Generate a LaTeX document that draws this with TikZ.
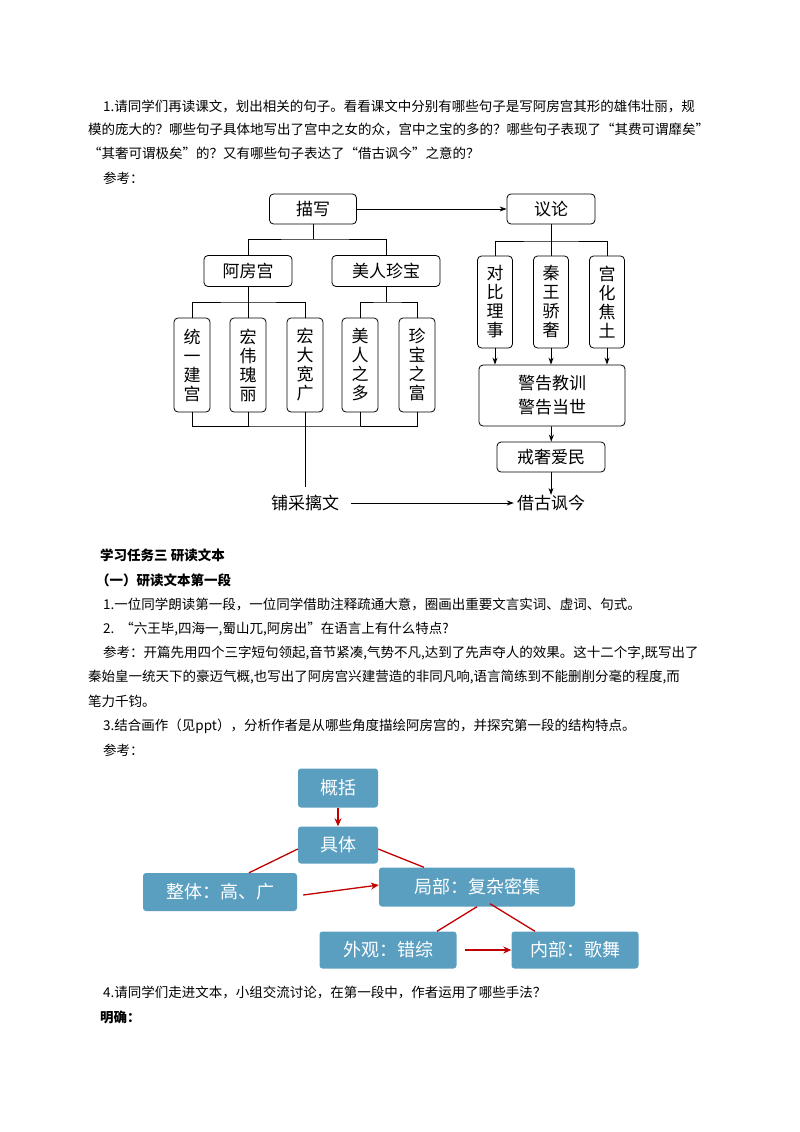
\documentclass[tikz,border=0pt]{standalone}
\usepackage{fontspec}
\setmainfont{Noto Sans CJK SC}
\usetikzlibrary{arrows.meta}
\definecolor{boxblue}{HTML}{5B9FC0}
\definecolor{dred}{HTML}{C00000}
\begin{document}
\begin{tikzpicture}[x=1pt,y=-1pt,
  txt/.style={anchor=west,inner sep=0pt,font=\fontsize{13.5}{14}\selectfont},
  hbox/.style={draw,thick,rounded corners=4pt,inner sep=0pt,font=\fontsize{17}{18}\selectfont},
  vbox/.style={draw,thick,rounded corners=4pt,inner sep=0pt,minimum width=36pt,align=center,font=\fontsize{17}{19}\selectfont},
  ln/.style={thick},
  arr/.style={thick,-{Stealth[length=7pt,width=5pt]}},
  bb/.style={fill=boxblue,text=white,rounded corners=3pt,inner sep=0pt,font=\fontsize{18}{20}\selectfont},
  rl/.style={dred,line width=1.3pt},
  ra/.style={dred,line width=1.3pt,-{Stealth[length=8pt,width=7pt]}}]
\useasboundingbox[fill=white] (0,0) rectangle (800,1132);
% text
\node[txt] (t1) at (103,106) {1.请同学们再读课文，划出相关的句子。看看课文中分别有哪些句子是写阿房宫其形的雄伟壮丽，规};
\node[txt] (t2) at (88,129) {模的庞大的？哪些句子具体地写出了宫中之女的众，宫中之宝的多的？哪些句子表现了“其费可谓靡矣”};
\node[txt] (t3) at (88,153) {“其奢可谓极矣”的？又有哪些句子表达了“借古讽今”之意的？};
\node[txt] (t4) at (103,178) {参考：};
\node[txt,font=\fontsize{13.5}{14}\selectfont\bfseries] (t5) at (100,555) {学习任务三\ 研读文本};
\node[txt,font=\fontsize{13.5}{14}\selectfont\bfseries] (t6) at (96,580) {（一）研读文本第一段};
\node[txt] (t7) at (103,604) {1.一位同学朗读第一段，一位同学借助注释疏通大意，圈画出重要文言实词、虚词、句式。};
\node[txt] (t8) at (103,629) {2.\ \ “六王毕,四海一,蜀山兀,阿房出”在语言上有什么特点?};
\node[txt] (t9) at (103,653) {参考：开篇先用四个三字短句领起,音节紧凑,气势不凡,达到了先声夺人的效果。这十二个字,既写出了};
\node[txt] (t10) at (88,677) {秦始皇一统天下的豪迈气概,也写出了阿房宫兴建营造的非同凡响,语言简练到不能删削分毫的程度,而};
\node[txt] (t11) at (88,701) {笔力千钧。};
\node[txt] (t12) at (103,726) {3.结合画作（见ppt），分析作者是从哪些角度描绘阿房宫的，并探究第一段的结构特点。};
\node[txt] (t13) at (103,750) {参考：};
\node[txt] (t14) at (103,992) {4.请同学们走进文本，小组交流讨论，在第一段中，作者运用了哪些手法？};
\node[txt,font=\fontsize{13.5}{14}\selectfont\bfseries] (t15) at (100,1017) {明确：};
% top diagram
\node[hbox,minimum width=87pt,minimum height=30pt] (mx) at (313,209) {描写};
\node[hbox,minimum width=88pt,minimum height=30pt] (yl) at (551,209) {议论};
\node[hbox,minimum width=88pt,minimum height=31pt] (afg) at (248,271) {阿房宫};
\node[hbox,minimum width=108pt,minimum height=31pt] (mrzb) at (386,271) {美人珍宝};
\foreach \n/\x/\t in {a/192/统\\一\\建\\宫, b/248/宏\\伟\\瑰\\丽, c/305/宏\\大\\宽\\广, d/360/美\\人\\之\\多, e/417/珍\\宝\\之\\富}
  \node[vbox,minimum height=94pt] (v\n) at (\x,365) {\t};
\foreach \n/\x/\t in {f/495/对\\比\\理\\事, g/551/秦\\王\\骄\\奢, h/607/宫\\化\\焦\\土}
  \node[vbox,minimum width=35pt,minimum height=92pt] (v\n) at (\x,302) {\t};
\node[hbox,minimum width=146pt,minimum height=61pt,align=center,font=\fontsize{17}{24}\selectfont] (jg) at (552,395.5) {警告教训\\警告当世};
\node[hbox,minimum width=108pt,minimum height=30pt] (js) at (551,457) {戒奢爱民};
\node[inner sep=0pt,font=\fontsize{17}{18}\selectfont] (pc) at (305,503) {铺采摛文};
\node[inner sep=0pt,font=\fontsize{17}{18}\selectfont] (jgfj) at (551,503) {借古讽今};
\draw[arr] (mx) -- (yl);
\draw[arr] (pc.east)+(12,0) coordinate (p1) (p1) -- ([xshift=-3pt]jgfj.west);
\draw[ln] (mx.south) -- (313,239) coordinate (c1);
\draw[ln] (afg.north) |- (c1) -| (mrzb.north);
\draw[ln] (afg.south) -- (248,302) coordinate (c2);
\draw[ln] (va.north) |- (c2) -| (vc.north);
\draw[ln] (vb.north) -- (c2);
\draw[ln] (mrzb.south) -- (386,302) coordinate (c3);
\draw[ln] (vd.north) |- (c3) -| (ve.north);
\draw[ln] (va.south) |- (305,426) coordinate (c4) -| (ve.south);
\draw[ln] (vb.south) -- (248,426);
\draw[ln] (vd.south) -- (360,426);
\draw[ln] (vc.south) -- (305,487);
\draw[ln] (yl.south) -- (551,241) coordinate (c5);
\draw[ln] (vf.north) |- (c5) -| (vh.north);
\draw[ln] (vg.north) -- (c5);
\foreach \n in {f,g,h} \draw[arr] (v\n.south) -- (v\n.south |- jg.north);
\draw[arr] (jg) -- (js);
\draw[arr] (js) -- (jgfj);
% bottom diagram
\node[bb,minimum width=80pt,minimum height=39pt] (gk) at (338,788) {概括};
\node[bb,minimum width=80pt,minimum height=37pt] (jt) at (338,845) {具体};
\node[bb,minimum width=154pt,minimum height=38pt] (zt) at (220,892) {整体：高、广};
\node[bb,minimum width=196pt,minimum height=39pt] (jb) at (477,887) {局部：复杂密集};
\node[bb,minimum width=137pt,minimum height=37pt] (wg) at (388,950) {外观：错综};
\node[bb,minimum width=127pt,minimum height=37pt] (nb) at (575,950) {内部：歌舞};
\draw[ra] (gk) -- (jt);
\draw[rl] ([yshift=-4pt]jt.west) -- ([xshift=29pt]zt.north);
\draw[rl] ([yshift=-4pt]jt.east) -- ([xshift=-53pt]jb.north);
\draw[ra] ([xshift=6pt,yshift=-3pt]zt.east) -- ([yshift=2pt]jb.west);
\draw[rl] (jb.south) -- ([xshift=49pt]wg.north);
\draw[rl] ([xshift=13pt,yshift=3pt]jb.south) -- ([xshift=-40pt]nb.north);
\draw[ra] ([xshift=8pt]wg.east) -- (nb.west);
\end{tikzpicture}
\end{document}
